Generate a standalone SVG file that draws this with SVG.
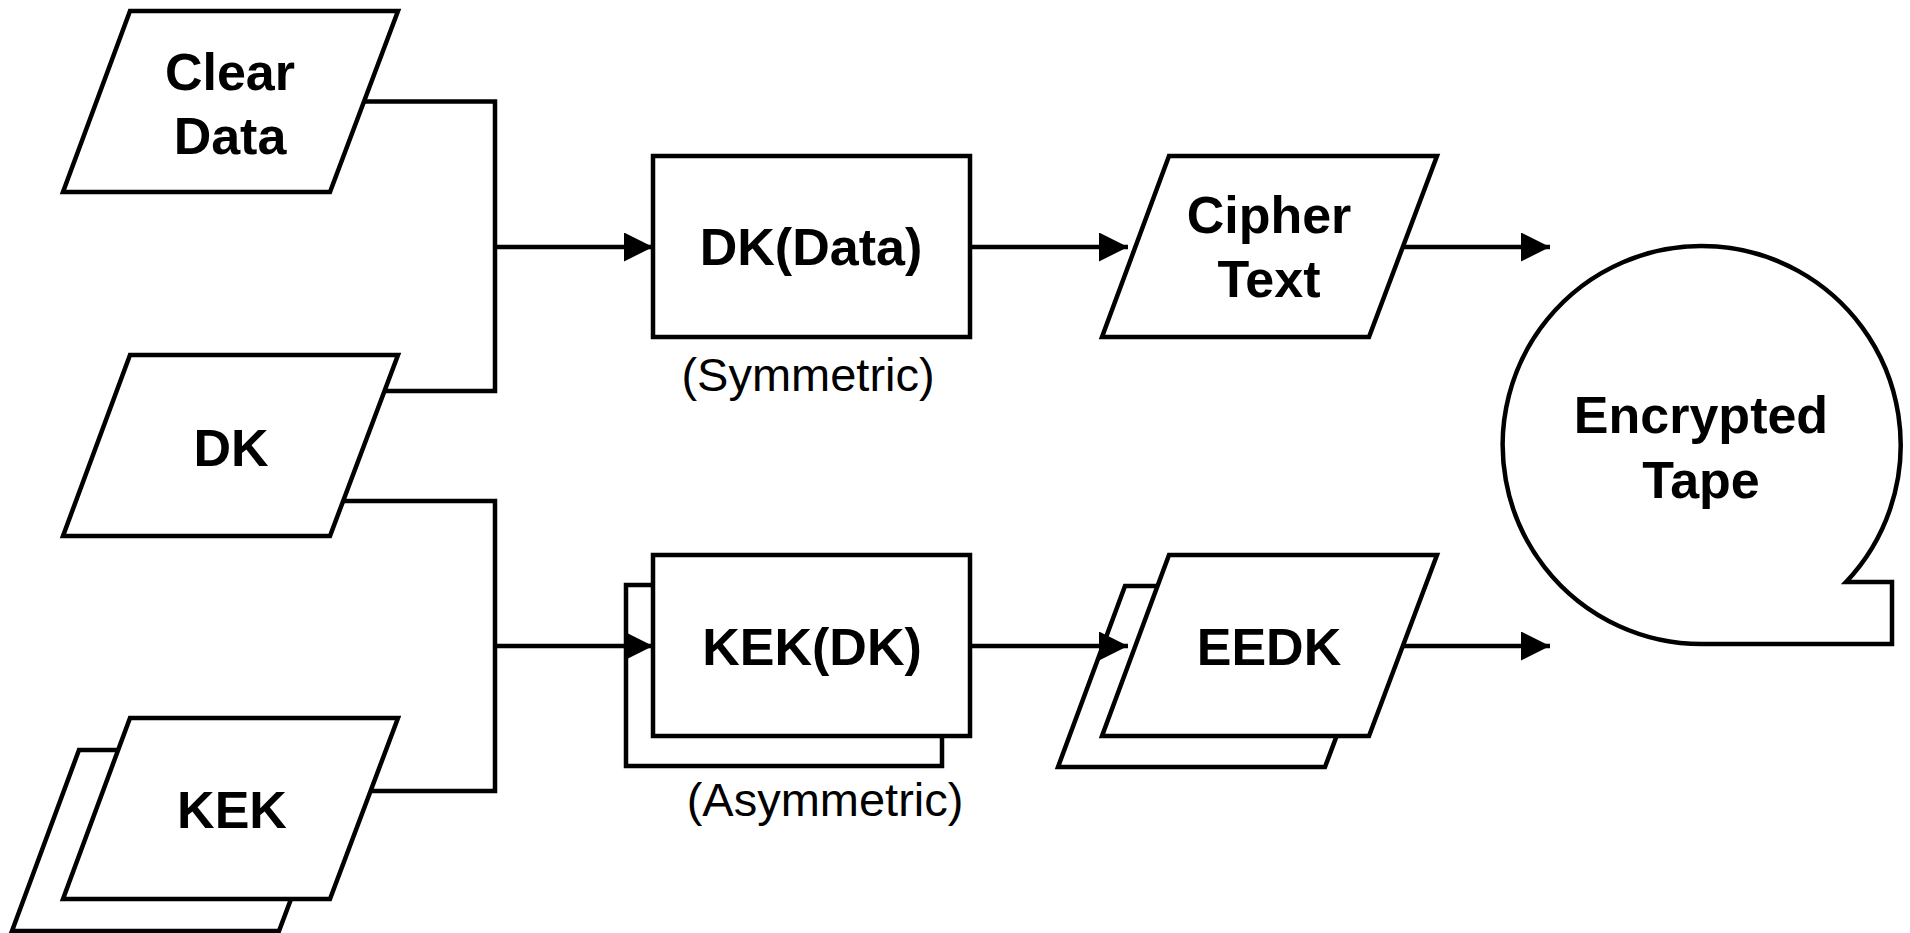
<svg xmlns="http://www.w3.org/2000/svg" width="1910" height="933" viewBox="0 0 1910 933">
  <style>
    .shape { fill: #ffffff; stroke: #000000; stroke-width: 4.5; stroke-linejoin: miter; }
    .wire { fill: none; stroke: #000000; stroke-width: 4.5; stroke-linejoin: miter; stroke-linecap: butt; }
    .lbl { font-family: "Liberation Sans", Arial, sans-serif; font-weight: bold; font-size: 52px; text-anchor: middle; fill: #000000; }
    .note { font-family: "Liberation Sans", Arial, sans-serif; font-size: 47px; text-anchor: middle; fill: #000000; }
  </style>
  <defs>
    <marker id="arrow" markerUnits="userSpaceOnUse" markerWidth="29" markerHeight="29" refX="29" refY="14.5" orient="auto">
      <path d="M0,0 L29,14.5 L0,29 Z" fill="#000000"/>
    </marker>
    <!-- shared parallelogram outline, origin at its top-left corner -->
    <path id="para" d="M0,0 L268,0 L200,181 L-67,181 Z"/>
  </defs>

  <rect x="0" y="0" width="1910" height="933" fill="#ffffff"/>

  <g id="clear-data">
    <use href="#para" class="shape" x="130" y="11"/>
    <text class="lbl" x="230" y="90">Clear</text>
    <text class="lbl" x="230" y="154">Data</text>
  </g>

  <g id="dk">
    <use href="#para" class="shape" x="130" y="355"/>
    <text class="lbl" x="231" y="466">DK</text>
  </g>

  <g id="kek">
    <use href="#para" class="shape" x="79" y="750"/>
    <use href="#para" class="shape" x="130" y="718"/>
    <text class="lbl" x="232" y="828">KEK</text>
  </g>

  <g id="dk-data">
    <rect class="shape" x="653" y="156" width="317" height="181"/>
    <text class="lbl" x="811" y="265">DK(Data)</text>
    <text class="note" x="808" y="391">(Symmetric)</text>
  </g>

  <g id="kek-dk">
    <rect class="shape" x="626" y="585" width="316" height="181"/>
    <rect class="shape" x="653" y="555" width="317" height="181"/>
    <text class="lbl" x="812" y="665">KEK(DK)</text>
    <text class="note" x="825" y="816">(Asymmetric)</text>
  </g>

  <g id="cipher-text">
    <use href="#para" class="shape" x="1169" y="156"/>
    <text class="lbl" x="1269" y="233">Cipher</text>
    <text class="lbl" x="1269" y="297">Text</text>
  </g>

  <g id="eedk">
    <use href="#para" class="shape" x="1125" y="586"/>
    <use href="#para" class="shape" x="1169" y="555"/>
    <text class="lbl" x="1269" y="665">EEDK</text>
  </g>

  <g id="encrypted-tape">
    <path class="shape" d="M1846,582 A199,199 0 1 0 1702,644 L1892,644 L1892,582 Z"/>
    <text class="lbl" x="1701" y="433">Encrypted</text>
    <text class="lbl" x="1701" y="498">Tape</text>
  </g>

  <g id="connectors">
    <!-- clear data + DK join, feed the symmetric step -->
    <polyline class="wire" points="364,101.5 495,101.5 495,391 384,391"/>
    <line class="wire" x1="495" y1="247" x2="653" y2="247" marker-end="url(#arrow)"/>
    <!-- DK + KEK join, feed the asymmetric step -->
    <polyline class="wire" points="343,501 495,501 495,791 371,791"/>
    <line class="wire" x1="495" y1="646" x2="653" y2="646" marker-end="url(#arrow)"/>
    <!-- step outputs -->
    <line class="wire" x1="970" y1="247" x2="1128" y2="247" marker-end="url(#arrow)"/>
    <line class="wire" x1="970" y1="646" x2="1128" y2="646" marker-end="url(#arrow)"/>
    <!-- into the tape -->
    <line class="wire" x1="1404" y1="247" x2="1550" y2="247" marker-end="url(#arrow)"/>
    <line class="wire" x1="1404" y1="646" x2="1550" y2="646" marker-end="url(#arrow)"/>
  </g>
</svg>
